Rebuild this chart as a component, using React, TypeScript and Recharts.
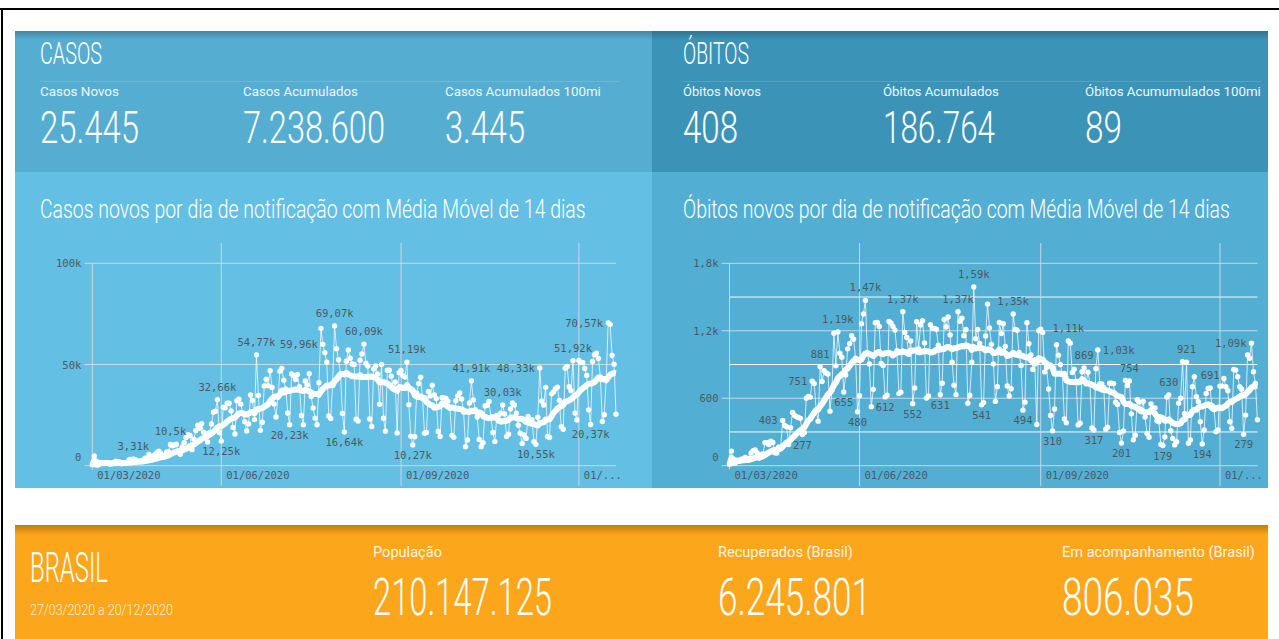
import React, { useLayoutEffect, useRef, useState } from 'react';
import { LineChart, Line, XAxis, YAxis, ReferenceLine, LabelList } from 'recharts';

// ---------- DATA (daily values from 27/03/2020 to 20/12/2020, one row per week Fri..Thu) ----------
const casesWeeks: number[][] = [
  [502, 4800, 352, 323, 1138, 1119, 1074],
  [1146, 1222, 852, 926, 1661, 2210, 1930],
  [1781, 1089, 1442, 1261, 1832, 3058, 2105],
  [3310, 2917, 2055, 1927, 2498, 2678, 3735],
  [3503, 5514, 3379, 4613, 5385, 6276, 7218],
  [6209, 4970, 4588, 6633, 6935, 10500, 9888],
  [10222, 10611, 6760, 5632, 9258, 11385, 13944],
  [15305, 14919, 7938, 13140, 17408, 19951, 18508],
  [20803, 16508, 15813, 11687, 16324, 20599, 26417],
  [26928, 32660, 16409, 12250, 28936, 28633, 30925],
  [30830, 27075, 18912, 15654, 32091, 32913, 30412],
  [25982, 21704, 17110, 20647, 34918, 32188, 22765],
  [54770, 34666, 17459, 21432, 39436, 42725, 39483],
  [46907, 38693, 30476, 24052, 33846, 46712, 48105],
  [42223, 37923, 26051, 20230, 45305, 44571, 42619],
  [45048, 39023, 24831, 20286, 41857, 39924, 45403],
  [34177, 28532, 23529, 20257, 41008, 67860, 59960],
  [55891, 51147, 24578, 23284, 40816, 69070, 57837],
  [52383, 45392, 25800, 16640, 51603, 57152, 53139],
  [50230, 49970, 23010, 22048, 52160, 55155, 60090],
  [50644, 49274, 23101, 19373, 47784, 49298, 45323],
  [30355, 50032, 23421, 17078, 47134, 47161, 44235],
  [38305, 41350, 16158, 45961, 47000, 44500, 43773],
  [51190, 30168, 14521, 10270, 14279, 35816, 40557],
  [43718, 33057, 16000, 16400, 36653, 34424, 39797],
  [35000, 33183, 16900, 14400, 33536, 33500, 33281],
  [31911, 28378, 15000, 14000, 32058, 34500, 36000],
  [33000, 26543, 9400, 12700, 31000, 41910, 32500],
  [27651, 24000, 13000, 9400, 11400, 29500, 29800],
  [31700, 24000, 16400, 11900, 24800, 25000, 26000],
  [30030, 25600, 14400, 15600, 28000, 31000, 30000],
  [26000, 20000, 16000, 11000, 15200, 13500, 24300],
  [22000, 22700, 11900, 10550, 23973, 48330, 32000],
  [30000, 38700, 14400, 13900, 35500, 36400, 38000],
  [38800, 32200, 19300, 18000, 48200, 49000, 39000],
  [37000, 51920, 26000, 22600, 52000, 51000, 51000],
  [48000, 44600, 27600, 20370, 51500, 54800, 55600],
  [53000, 43900, 21825, 25193, 42889, 70570, 69826],
  [54428, 50177, 25445],
];

const deathsWeeks: number[][] = [
  [10, 130, 22, 23, 42, 40, 58],
  [60, 73, 54, 67, 114, 133, 141],
  [115, 68, 99, 105, 204, 204, 188],
  [217, 206, 115, 113, 166, 165, 403],
  [357, 346, 189, 338, 474, 449, 435],
  [428, 421, 277, 296, 600, 615, 610],
  [751, 730, 496, 396, 881, 749, 844],
  [824, 816, 485, 674, 1179, 888, 1190],
  [1001, 965, 655, 807, 1039, 1086, 1156],
  [1124, 956, 480, 623, 1262, 1349, 1470],
  [1005, 904, 525, 679, 1272, 1274, 1239],
  [909, 892, 612, 627, 1282, 1269, 1238],
  [1206, 1022, 641, 654, 1370, 1185, 1141],
  [990, 1109, 552, 692, 1280, 1038, 1252],
  [1290, 1091, 602, 620, 1254, 1223, 1220],
  [1214, 1071, 631, 733, 1300, 1233, 1322],
  [1163, 921, 716, 632, 1370, 1284, 1311],
  [1156, 1211, 555, 627, 921, 1590, 1129],
  [1212, 1088, 541, 561, 1154, 1437, 1226],
  [1079, 905, 572, 703, 1274, 1175, 1262],
  [1060, 709, 620, 684, 1350, 1212, 1204],
  [1007, 892, 494, 565, 1271, 1085, 984],
  [855, 905, 366, 1200, 1215, 1184, 834],
  [874, 682, 447, 310, 504, 1075, 983],
  [899, 814, 415, 381, 1110, 1090, 829],
  [858, 739, 363, 377, 836, 869, 729],
  [831, 728, 335, 317, 863, 1030, 729],
  [728, 695, 324, 342, 734, 734, 730],
  [564, 545, 296, 201, 309, 759, 713],
  [754, 461, 230, 271, 586, 566, 497],
  [571, 432, 287, 253, 549, 510, 513],
  [399, 390, 190, 179, 256, 610, 630],
  [311, 243, 185, 213, 555, 600, 925],
  [465, 921, 200, 229, 702, 791, 613],
  [569, 391, 194, 317, 643, 687, 691],
  [509, 500, 302, 317, 708, 708, 776],
  [702, 667, 391, 332, 856, 850, 791],
  [702, 680, 279, 450, 984, 955, 1090],
  [836, 732, 408],
];

// day indexes (0 = 27/03/2020) of annotated points, grouped by where the value label sits
const casesUpDays = [21, 40, 64, 84, 124, 139, 161, 194, 210, 246];
const casesDownDays = [66, 101, 129, 164, 227, 255];
const casesLeftDays = [118, 229, 264];
const casesRightDays: number[] = [];
const deathsUpDays = [46, 55, 69, 88, 116, 124, 144, 172, 180, 203, 223, 232, 244];
const deathsDownDays = [37, 58, 65, 79, 93, 107, 128, 149, 164, 185, 199, 220, 240, 261];
const deathsLeftDays = [27, 42, 265];
const deathsRightDays = [187];

const xTickDays = [0, 66, 158, 249];
const xTickLabels = ['01/03/2020', '01/06/2020', '01/09/2020', '01/...'];
const casesYTicks = [0, 50000, 100000];
const casesYLabels = ['0', '50k', '100k'];
const deathsYTicks = [0, 600, 1200, 1800];
const deathsYLabels = ['0', '600', '1,2k', '1,8k'];
const deathsMinorTicks = [300, 900, 1500];
const lastDay = 268;

// ---------- helpers ----------
const fmt = (v: number) => {
  if (v < 1000) return String(v);
  const s = (v / 1000).toFixed(2).replace(/0+$/, '').replace(/\.$/, '');
  return s.replace('.', ',') + 'k';
};

const buildData = (weeks: number[][], up: number[], down: number[], left: number[], right: number[]) => {
  const vals = weeks.flat();
  return vals.map((v, i) => {
    const w = vals.slice(Math.max(0, i - 13), i + 1);
    const ma = w.reduce((a, b) => a + b, 0) / w.length;
    return {
      d: i,
      v,
      ma,
      up: up.includes(i) ? fmt(v) : null,
      down: down.includes(i) ? fmt(v) : null,
      left: left.includes(i) ? fmt(v) : null,
      right: right.includes(i) ? fmt(v) : null,
    };
  });
};

const casesData = buildData(casesWeeks, casesUpDays, casesDownDays, casesLeftDays, casesRightDays);
const deathsData = buildData(deathsWeeks, deathsUpDays, deathsDownDays, deathsLeftDays, deathsRightDays);

const MONO = '"DejaVu Sans Mono", "Liberation Mono", monospace';
const LABEL_COLOR = '#4d5960';
const GRID = 'rgba(212,220,225,0.9)';
const GRID_MINOR = 'rgba(255,255,255,0.95)';
const LABEL_SIZE = 10.5;

const labelText = (x: number, y: number, anchor: string, value: string) => (
  <text x={x} y={y} textAnchor={anchor} fontFamily={MONO} fontSize={LABEL_SIZE} fill={LABEL_COLOR}>
    {value}
  </text>
);
const upLabel = (p: any) => (p.value ? labelText(p.x, p.y - 9, 'middle', p.value) : null);
const downLabel = (p: any) => (p.value ? labelText(p.x, p.y + 14, 'middle', p.value) : null);
const leftLabel = (p: any) => (p.value ? labelText(p.x - 5, p.y + 4, 'end', p.value) : null);
const rightLabel = (p: any) => (p.value ? labelText(p.x + 5, p.y + 4, 'start', p.value) : null);

const xTick = (p: any) => {
  const idx = xTickDays.indexOf(p.payload.value);
  return (
    <text x={p.x + 5} y={p.y + 13} textAnchor="start" fontFamily={MONO} fontSize={10.5} fill={LABEL_COLOR}>
      {xTickLabels[idx]}
    </text>
  );
};

const makeYTick = (ticks: number[], labels: string[]) => (p: any) => {
  const idx = ticks.indexOf(p.payload.value);
  const dy = p.payload.value === 0 ? -5 : 4;
  return (
    <text x={p.x - 11} y={p.y + dy} textAnchor="end" fontFamily={MONO} fontSize={10.5} fill={LABEL_COLOR}>
      {labels[idx]}
    </text>
  );
};

type ChartProps = {
  data: any[];
  width: number;
  height: number;
  plotLeft: number;
  plotRight: number;
  top: number;
  bottom: number;
  yMax: number;
  yTicks: number[];
  yLabels: string[];
  minor?: number[];
};

const DailyChart = ({ data, width, height, plotLeft, plotRight, top, bottom, yMax, yTicks, yLabels, minor = [] }: ChartProps) => {
  const yPad = yMax * 0.1;
  return (
    <LineChart width={width} height={height} data={data} margin={{ top, right: plotRight, bottom: 0, left: 0 }}>
      <XAxis
        type="number"
        dataKey="d"
        domain={[0, lastDay]}
        ticks={xTickDays}
        height={bottom}
        axisLine={false}
        tickLine={false}
        tickSize={0}
        tickMargin={0}
        tick={xTick}
        interval={0}
      />
      <YAxis
        type="number"
        domain={[0, yMax]}
        ticks={yTicks}
        width={plotLeft}
        axisLine={false}
        tickLine={false}
        tickSize={0}
        tickMargin={0}
        tick={makeYTick(yTicks, yLabels)}
        interval={0}
      />
      {yTicks.map((t) => (
        <ReferenceLine
          key={'h' + t}
          segment={[{ x: -4, y: t }, { x: lastDay, y: t }]}
          stroke={GRID}
          strokeWidth={1}
          ifOverflow="visible"
        />
      ))}
      {minor.map((t) => (
        <ReferenceLine
          key={'m' + t}
          segment={[{ x: 0, y: t }, { x: lastDay, y: t }]}
          stroke={GRID_MINOR}
          strokeWidth={1}
          ifOverflow="visible"
        />
      ))}
      {xTickDays.slice(1).map((t) => (
        <ReferenceLine
          key={'v' + t}
          segment={[{ x: t, y: -yPad }, { x: t, y: yMax + yPad }]}
          stroke={GRID}
          strokeWidth={1}
          ifOverflow="visible"
        />
      ))}
      <ReferenceLine
        segment={[{ x: 0, y: -yPad * 0.2 }, { x: 0, y: yMax }]}
        stroke={GRID}
        strokeWidth={1}
        ifOverflow="visible"
      />
      <Line
        type="linear"
        dataKey="v"
        stroke="rgba(255,255,255,0.75)"
        strokeWidth={1}
        dot={{ r: 2.7, fill: '#ffffff', stroke: 'none' }}
        isAnimationActive={false}
      >
        <LabelList dataKey="up" content={upLabel} />
        <LabelList dataKey="down" content={downLabel} />
        <LabelList dataKey="left" content={leftLabel} />
        <LabelList dataKey="right" content={rightLabel} />
      </Line>
      <Line
        type="linear"
        dataKey="ma"
        stroke="#ffffff"
        strokeWidth={6}
        strokeLinejoin="round"
        dot={false}
        isAnimationActive={false}
      />
    </LineChart>
  );
};

// text squeezed to the condensed width measured on the reference
const FitText = ({ x, y, size, w, weight = 300, fill = '#ffffff', children }: any) => {
  const ref = useRef<SVGTextElement>(null);
  const [sx, setSx] = useState(1);
  useLayoutEffect(() => {
    const el = ref.current;
    if (el) {
      const n = el.getComputedTextLength();
      if (n > 0) setSx(w / n);
    }
  }, [w, children]);
  return (
    <text
      ref={ref}
      transform={`translate(${x},${y}) scale(${sx},1)`}
      x={0}
      y={0}
      fontSize={size}
      fontWeight={weight}
      fill={fill}
      fontFamily="Roboto, 'Noto Sans', sans-serif"
    >
      {children}
    </text>
  );
};

export default function App() {
  return (
    <div style={{ position: 'absolute', left: 0, top: 0, width: 1279, height: 639, background: '#ffffff', overflow: 'hidden' }}>
      <svg width={1279} height={639} style={{ position: 'absolute', left: 0, top: 0 }}>
        <defs>
          <linearGradient id="shadeBlue" x1="0" y1="0" x2="0" y2="1">
            <stop offset="0" stopColor="rgba(0,0,0,0.22)" />
            <stop offset="1" stopColor="rgba(0,0,0,0)" />
          </linearGradient>
          <linearGradient id="shadeOrange" x1="0" y1="0" x2="0" y2="1">
            <stop offset="0" stopColor="rgba(120,70,0,0.45)" />
            <stop offset="1" stopColor="rgba(120,70,0,0)" />
          </linearGradient>
        </defs>
        {/* frame */}
        <rect x={0} y={8} width={1279} height={2} fill="#000" />
        <rect x={1} y={8} width={2} height={631} fill="#000" />

        {/* blue panels */}
        <rect x={15} y={31} width={637} height={141} fill="#56add2" />
        <rect x={652} y={31} width={616} height={141} fill="#3c93b8" />
        <rect x={15} y={172} width={637} height={316} fill="#63bfe3" />
        <rect x={652} y={172} width={616} height={316} fill="#53aed3" />
        <rect x={15} y={31} width={1253} height={9} fill="url(#shadeBlue)" />
        <rect x={40} y={81} width={580} height={1} fill="rgba(255,255,255,0.14)" />
        <rect x={683} y={81} width={578} height={1} fill="rgba(255,255,255,0.14)" />

        {/* orange panel */}
        <rect x={15} y={525} width={1253} height={114} fill="#fca61c" />
        <rect x={15} y={525} width={1253} height={10} fill="url(#shadeOrange)" />

        {/* CASOS header */}
        <FitText x={40} y={64} size={31} w={62}>CASOS</FitText>
        <FitText x={40} y={96} size={13} w={79} weight={400} fill="#eef7fb">Casos Novos</FitText>
        <FitText x={40} y={143} size={45} w={99}>25.445</FitText>
        <FitText x={243} y={96} size={13} w={115} weight={400} fill="#eef7fb">Casos Acumulados</FitText>
        <FitText x={243} y={143} size={45} w={142}>7.238.600</FitText>
        <FitText x={445} y={96} size={13} w={156} weight={400} fill="#eef7fb">Casos Acumulados 100mi</FitText>
        <FitText x={445} y={143} size={45} w={80}>3.445</FitText>

        {/* OBITOS header */}
        <FitText x={683} y={64} size={31} w={66}>ÓBITOS</FitText>
        <FitText x={683} y={96} size={13} w={78} weight={400} fill="#eef7fb">Óbitos Novos</FitText>
        <FitText x={683} y={143} size={45} w={55}>408</FitText>
        <FitText x={883} y={96} size={13} w={116} weight={400} fill="#eef7fb">Óbitos Acumulados</FitText>
        <FitText x={883} y={143} size={45} w={112}>186.764</FitText>
        <FitText x={1085} y={96} size={13} w={176} weight={400} fill="#eef7fb">Óbitos Acumumulados 100mi</FitText>
        <FitText x={1085} y={143} size={45} w={37}>89</FitText>

        {/* chart titles */}
        <FitText x={40} y={218} size={26} w={546}>Casos novos por dia de notificação com Média Móvel de 14 dias</FitText>
        <FitText x={683} y={218} size={26} w={547}>Óbitos novos por dia de notificação com Média Móvel de 14 dias</FitText>

        {/* BRASIL panel */}
        <FitText x={30} y={582} size={42} w={78}>BRASIL</FitText>
        <FitText x={30} y={615} size={15} w={143} fill="rgba(255,255,255,0.85)">27/03/2020 a 20/12/2020</FitText>
        <FitText x={373} y={557} size={14} w={69} weight={400} fill="#fff3e0">População</FitText>
        <FitText x={373} y={615} size={52} w={179}>210.147.125</FitText>
        <FitText x={718} y={557} size={14} w={135} weight={400} fill="#fff3e0">Recuperados (Brasil)</FitText>
        <FitText x={718} y={615} size={52} w={153}>6.245.801</FitText>
        <FitText x={1062} y={557} size={14} w={193} weight={400} fill="#fff3e0">Em acompanhamento (Brasil)</FitText>
        <FitText x={1062} y={615} size={52} w={132}>806.035</FitText>
      </svg>

      <div style={{ position: 'absolute', left: 15, top: 240 }}>
        <DailyChart
          data={casesData}
          width={637}
          height={248}
          plotLeft={77.3}
          plotRight={36}
          top={23.3}
          bottom={22.3}
          yMax={100000}
          yTicks={casesYTicks}
          yLabels={casesYLabels}
        />
      </div>
      <div style={{ position: 'absolute', left: 652, top: 240 }}>
        <DailyChart
          data={deathsData}
          width={616}
          height={248}
          plotLeft={77.5}
          plotRight={10.6}
          top={23.3}
          bottom={22.3}
          yMax={1800}
          yTicks={deathsYTicks}
          yLabels={deathsYLabels}
          minor={deathsMinorTicks}
        />
      </div>
    </div>
  );
}
